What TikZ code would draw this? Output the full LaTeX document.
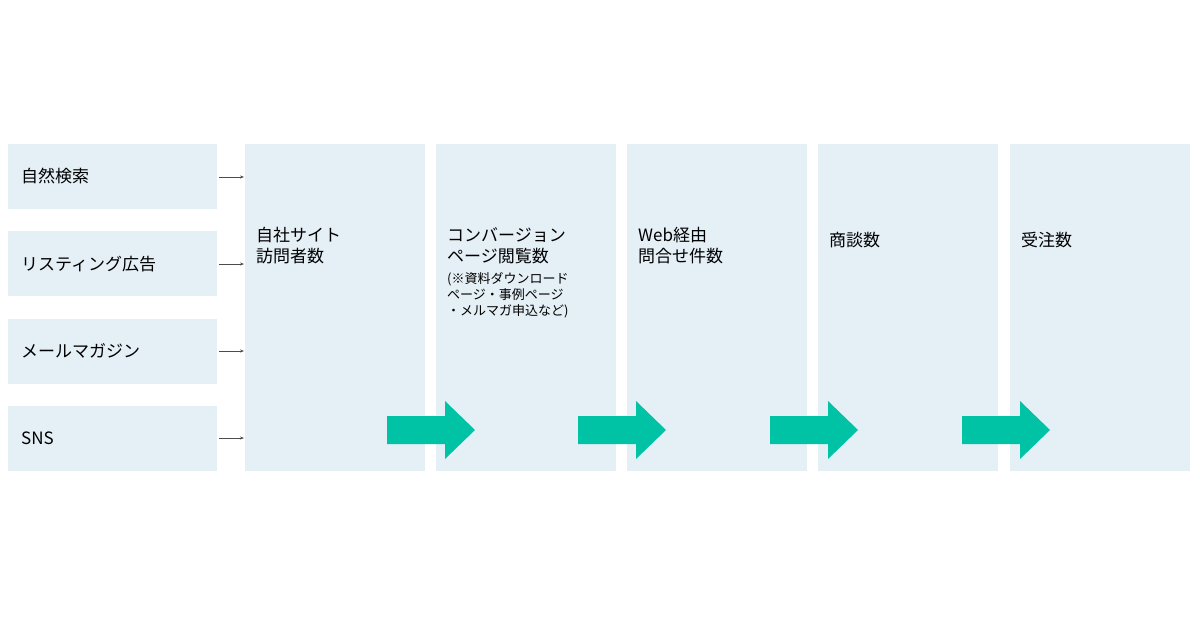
\documentclass[tikz,border=0pt]{standalone}
\usepackage{fontspec}
\setmainfont{Noto Sans CJK JP}
\usetikzlibrary{arrows.meta}
\definecolor{boxc}{HTML}{E5EFF6}
\definecolor{grn}{HTML}{00C3A6}
\begin{document}
\begin{tikzpicture}[x=1pt,y=-1pt,
  src/.style={fill=boxc,draw=none,minimum width=209pt,minimum height=65pt,inner sep=0,anchor=north west},
  col/.style={fill=boxc,draw=none,minimum width=180pt,minimum height=327pt,inner sep=0,anchor=north west},
  lbl/.style={anchor=west,font=\fontsize{17}{20}\selectfont,inner sep=0},
  clbl/.style={anchor=north west,font=\fontsize{17}{21}\selectfont,inner sep=0,align=left},
  sarr/.style={draw=black!70,line width=0.6pt,-{Stealth[length=4pt,width=3pt]}},
  big/.style={fill=grn,draw=none}]
\useasboundingbox (0,0) rectangle (1200,630);
\node[src] (s1) at (8,144) {};
\node[src] (s2) at (8,231) {};
\node[src] (s3) at (8,319) {};
\node[src] (s4) at (8,406) {};
\node[lbl] at (21,176) {自然検索};
\node[lbl] at (21,264) {リスティング広告};
\node[lbl] at (21,351) {メールマガジン};
\node[lbl] at (21,438) {SNS};
\foreach \i/\x in {1/245,2/436,3/627,4/818,5/1010}{\node[col] (c\i) at (\x,144) {};}
\coordinate (a1) at (219,177); \coordinate (b1) at (244,177);
\coordinate (a2) at (219,264); \coordinate (b2) at (244,264);
\coordinate (a3) at (219,351); \coordinate (b3) at (244,351);
\coordinate (a4) at (219,438); \coordinate (b4) at (244,438);
\foreach \i in {1,2,3,4}{\draw[sarr] (a\i) -- (b\i);}
\node[clbl] at (256,227) {自社サイト\\訪問者数};
\node[clbl] (t2) at (447,227) {コンバージョン\\ページ閲覧数};
\node[anchor=north west,inner sep=0,align=left,font=\fontsize{13}{16}\selectfont] at (447,272) {(※資料ダウンロード\\ページ・事例ページ\\・メルマガ申込など)};
\node[clbl] at (638,227) {Web経由\\問合せ件数};
\node[clbl] at (829,232) {商談数};
\node[clbl] at (1021,232) {受注数};
\foreach \x in {387,578,770,962}{
  \fill[grn] (\x,416) -- (\x+58,416) -- (\x+58,401) -- (\x+88,430) -- (\x+58,459) -- (\x+58,444) -- (\x,444) -- cycle;}
\end{tikzpicture}
\end{document}
